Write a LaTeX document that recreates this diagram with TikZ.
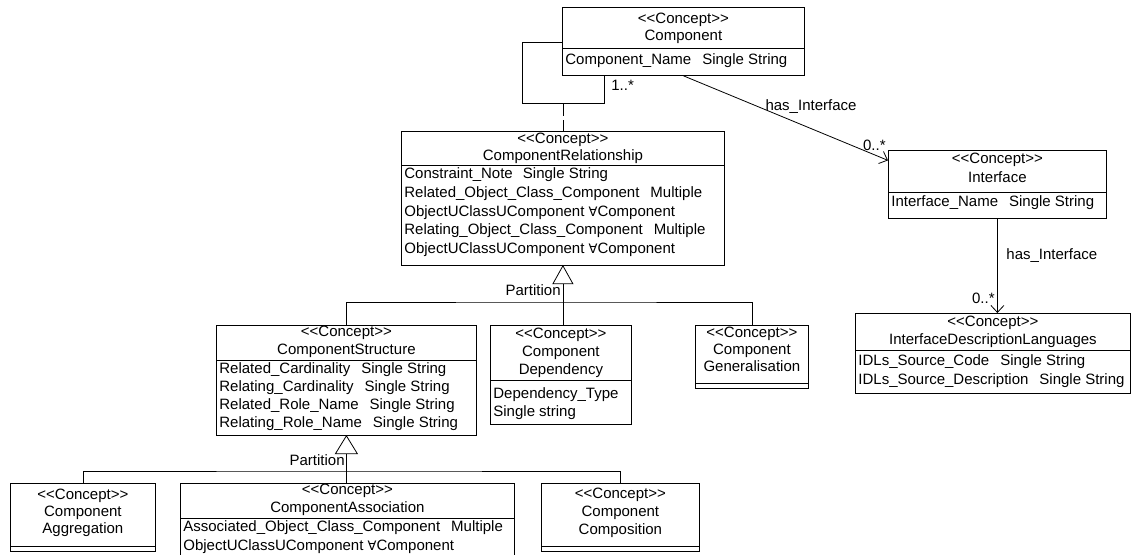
\documentclass[tikz,border=0pt]{standalone}
\usepackage{fontspec}
\setmainfont{Liberation Sans}[Ligatures=TeXOff]
\newfontfamily\forallfont{DejaVu Sans}
\usetikzlibrary{arrows.meta}
\newcommand{\stereo}{<<Concept>>}
\newcommand{\fa}{{\forallfont\fontsize{13}{18}\selectfont ∀}}
\newcommand{\gap}{\hspace{11pt}}
\tikzset{
  concept/.style 2 args={draw, rectangle, inner sep=0pt, anchor=north west, minimum width=#1, minimum height=#2},
  txt/.style={inner sep=0pt, text height=10.5pt, text depth=3pt},
  attr/.style={txt, anchor=west},
  has/.style={-{Straight Barb[length=7pt,width=13pt]}},
  tri/.style={fill=white},
}
\begin{document}
\begin{tikzpicture}[x=1pt, y=-1pt, line width=0.8pt, every node/.style={font=\fontsize{15}{18}\selectfont}]
\clip (0,0) rectangle (1132,554);
% Component
\node[concept={242pt}{68pt}] (comp) at (562,7) {};
\node[txt] (compS) at (comp.north |- 0,20) {\stereo};
\node[txt] (compN) at (comp.north |- 0,37) {Component};
\draw (comp.west |- 0,48) -- (comp.east |- 0,48);
\node[attr] (compA) at (565,61) {Component\_Name\gap Single String};
% ComponentRelationship
\node[concept={323pt}{134pt}] (rel) at (401,131) {};
\node[txt] (relS) at (rel.north |- 0,140) {\stereo};
\node[txt] (relN) at (rel.north |- 0,157) {ComponentRelationship};
\draw (rel.west |- 0,165) -- (rel.east |- 0,165);
\node[attr] (relA1) at (404,175) {Constraint\_Note\hspace{6pt} Single String};
\node[attr] (relA2) at (404,194) {Related\_Object\_Class\_Component\gap Multiple};
\node[attr] (relA3) at (404,213) {ObjectUClassUComponent \fa Component};
\node[attr] (relA4) at (404,231) {Relating\_Object\_Class\_Component\gap Multiple};
\node[attr] (relA5) at (404,250) {ObjectUClassUComponent \fa Component};
% Interface
\node[concept={218pt}{68pt}] (iface) at (888,150) {};
\node[txt] (ifaceS) at (iface.north |- 0,160) {\stereo};
\node[txt] (ifaceN) at (iface.north |- 0,179) {Interface};
\draw (iface.west |- 0,192) -- (iface.east |- 0,192);
\node[attr] (ifaceA) at (891,203) {Interface\_Name\gap Single String};
% InterfaceDescriptionLanguages
\node[concept={275pt}{80pt}] (idl) at (855,313) {};
\node[txt] (idlS) at (idl.north |- 0,323) {\stereo};
\node[txt] (idlN) at (idl.north |- 0,341) {InterfaceDescriptionLanguages};
\draw (idl.west |- 0,350) -- (idl.east |- 0,350);
\node[attr] (idlA1) at (858,362) {IDLs\_Source\_Code\gap Single String};
\node[attr] (idlA2) at (858,381) {IDLs\_Source\_Description\gap Single String};
% ComponentStructure
\node[concept={260pt}{110pt}] (struct) at (216,325) {};
\node[txt] (structS) at (struct.north |- 0,333) {\stereo};
\node[txt] (structN) at (struct.north |- 0,351) {ComponentStructure};
\draw (struct.west |- 0,360) -- (struct.east |- 0,360);
\node[attr] (structA1) at (219,370) {Related\_Cardinality\gap Single String};
\node[attr] (structA2) at (219,388) {Relating\_Cardinality\gap Single String};
\node[attr] (structA3) at (219,406) {Related\_Role\_Name\gap Single String};
\node[attr] (structA4) at (219,424) {Relating\_Role\_Name\gap Single String};
% Component Dependency
\node[concept={141pt}{99pt}] (dep) at (490,325) {};
\node[txt] (depS) at (dep.north |- 0,335) {\stereo};
\node[txt] (depN1) at (dep.north |- 0,353) {Component};
\node[txt] (depN2) at (dep.north |- 0,371) {Dependency};
\draw (dep.west |- 0,380) -- (dep.east |- 0,380);
\node[attr] (depA1) at (493,395) {Dependency\_Type};
\node[attr] (depA2) at (493,413) {Single string};
% Component Generalisation
\node[concept={113pt}{63pt}] (gen) at (695,325) {};
\node[txt] (genS) at (gen.north |- 0,334) {\stereo};
\node[txt] (genN1) at (gen.north |- 0,351) {Component};
\node[txt] (genN2) at (gen.north |- 0,368) {Generalisation};
\draw (gen.west |- 0,383) -- (gen.east |- 0,383);
% Component Aggregation
\node[concept={145pt}{68pt}] (agg) at (10,483) {};
\node[txt] (aggS) at (agg.north |- 0,496) {\stereo};
\node[txt] (aggN1) at (agg.north |- 0,513) {Component};
\node[txt] (aggN2) at (agg.north |- 0,530) {Aggregation};
\draw (agg.west |- 0,546) -- (agg.east |- 0,546);
% ComponentAssociation
\node[concept={334pt}{80pt}] (assoc) at (180,483) {};
\node[txt] (assocS) at (assoc.north |- 0,491) {\stereo};
\node[txt] (assocN) at (assoc.north |- 0,509) {ComponentAssociation};
\draw (assoc.west |- 0,518) -- (assoc.east |- 0,518);
\node[attr] (assocA1) at (183,528) {Associated\_Object\_Class\_Component\gap Multiple};
\node[attr] (assocA2) at (183,547) {ObjectUClassUComponent \fa Component};
% Component Composition
\node[concept={158pt}{68pt}] (compo) at (541,483) {};
\node[txt] (compoS) at (compo.north |- 0,495) {\stereo};
\node[txt] (compoN1) at (compo.north |- 0,513) {Component};
\node[txt] (compoN2) at (compo.north |- 0,531) {Composition};
\draw (compo.west |- 0,546) -- (compo.east |- 0,546);

% self association with association class
\coordinate (loopA) at (522,42);
\coordinate (loopB) at (604,103);
\draw (comp.west |- loopA) -| (loopA |- loopB) -| (comp.south -| loopB);
\draw[dash pattern=on 13pt off 4pt] (loopB -| rel.north) -- (rel.north);
\node[txt, anchor=west] (mult1) at (611,87) {1..*};

% has_Interface links
\draw[has] (comp.south) -- ([yshift=24pt]iface.west);
\node[txt] (hasI1) at (811,107) {has\_Interface};
\node[txt, anchor=east] (mult2) at (886,147) {0..*};
\draw[has] (iface.south) -- (iface.south |- idl.north);
\node[txt, anchor=west] (hasI2) at (1006,256) {has\_Interface};
\node[txt, anchor=east] (mult3) at (995,300) {0..*};

% partition of ComponentRelationship
\coordinate (relB) at ([yshift=-18pt]rel.south);
\coordinate (g1) at (relB |- 0,302);
\draw[tri] (rel.south) -- ++(-10,18) -- ++(20,0) -- cycle;
\draw (relB) -- (g1);
\node[txt, anchor=east] (part1) at (561,292) {Partition};
\draw (struct.north) |- (g1) -| (gen.north);
\draw (g1) -- (g1 |- dep.north);

% partition of ComponentStructure
\coordinate (structB) at ([yshift=-18pt]struct.south);
\coordinate (g2) at (structB |- 0,471);
\draw[tri] (struct.south) -- ++(-11,18) -- ++(22,0) -- cycle;
\draw (structB) -- (g2);
\node[txt, anchor=east] (part2) at (345,462) {Partition};
\draw (agg.north) |- (g2) -| (compo.north);
\draw (g2) -- (g2 |- assoc.north);
\end{tikzpicture}
\end{document}
